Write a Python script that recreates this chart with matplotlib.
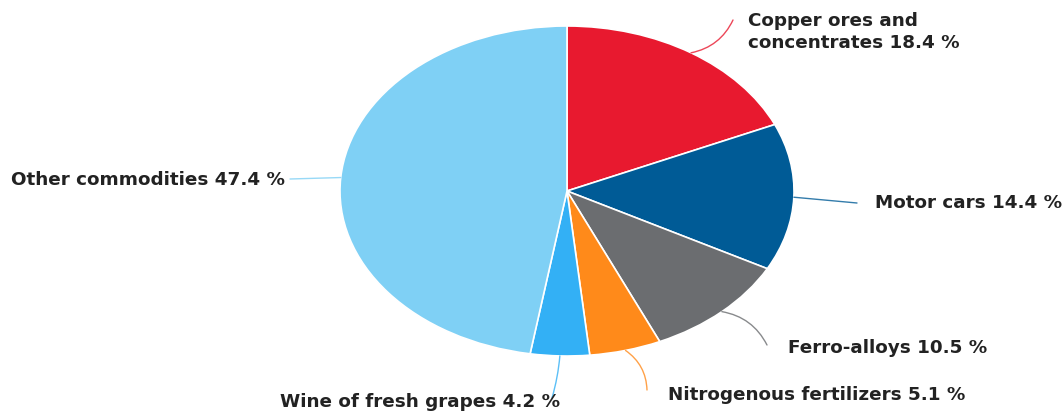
import matplotlib

matplotlib.use("Agg")
import matplotlib.pyplot as plt  # noqa: E402
import numpy as np  # noqa: E402

labels = ["Copper ores and\nconcentrates", "Motor cars", "Ferro-alloys",
          "Nitrogenous fertilizers", "Wine of fresh grapes", "Other commodities"]
shares = [18.4, 14.4, 10.5, 5.1, 4.2, 47.4]
colors = ["#e8192f", "#005b96", "#6b6d70", "#ff8a1a", "#33b0f5", "#7fd0f5"]

# label anchor (pixel coords of the reference), alignment, leader curvature
label_pos = [(748, 32, "left", -0.25), (875, 203, "left", 0.0),
             (788, 348, "left", 0.25), (668, 395, "left", 0.25),
             (560, 402, "right", 0.05), (285, 180, "right", 0.0)]
line_end = [(733, 20), (857, 203), (767, 345), (647, 390), (552, 398), (290, 179)]

W, H = 1062, 411
cx, cy, rx, ry = 567, 191, 227, 165

fig = plt.figure(figsize=(W / 100, H / 100), dpi=100)
ax = fig.add_axes([(cx - rx) / W, (H - cy - ry) / H, 2 * rx / W, 2 * ry / H])
wedges, _ = ax.pie(shares, colors=colors, startangle=90, counterclock=False,
                   wedgeprops=dict(edgecolor="white", linewidth=1.2))
ax.set_aspect("auto")
ax.set_xlim(-1, 1)
ax.set_ylim(-1, 1)
ax.axis("off")


def to_data(px, py):
    return (px - cx) / rx, (cy - py) / ry


for w, lab, val, col, (tx, ty, ha, rad), (ex, ey) in zip(
        wedges, labels, shares, colors, label_pos, line_end):
    ang = np.deg2rad((w.theta1 + w.theta2) / 2)
    xy = (np.cos(ang), np.sin(ang))
    ax.annotate("", xy=xy, xytext=to_data(ex, ey), annotation_clip=False,
                arrowprops=dict(arrowstyle="-", color=col, lw=1.0, alpha=0.8,
                                shrinkA=0, shrinkB=0,
                                connectionstyle=f"arc3,rad={rad}"))
    ax.text(*to_data(tx, ty), f"{lab} {val} %", ha=ha, va="center",
            fontsize=13.2, fontweight="bold", color="#222222",
            linespacing=1.3, clip_on=False)

fig.savefig("out.png", dpi=100)
plt.close(fig)
